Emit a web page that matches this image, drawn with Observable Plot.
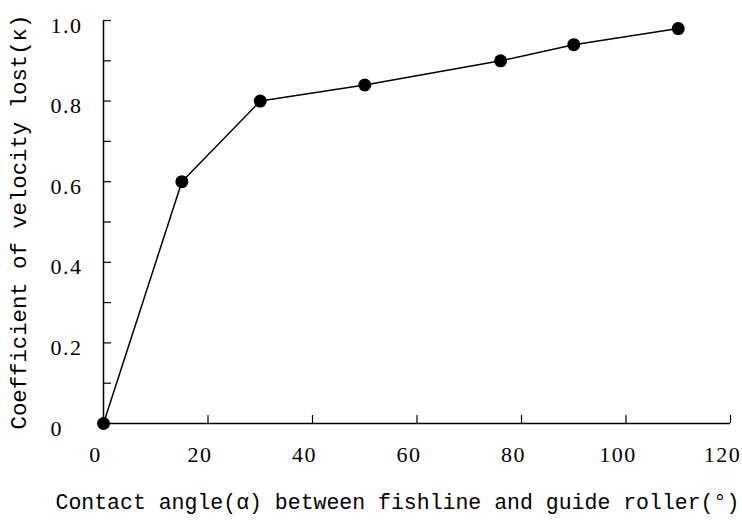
<!DOCTYPE html>
<html><head><meta charset="utf-8">
<script src="https://cdn.jsdelivr.net/npm/d3@7"></script>
<script src="https://cdn.jsdelivr.net/npm/@observablehq/plot@0.6"></script>
<style>
body{margin:0;background:#fff}
#chart{width:742px;height:520px;overflow:hidden}
g[font-family="Liberation Serif"] text{letter-spacing:1.5px}
</style>
</head><body><div id="chart"></div>
<script>
const angle = [0, 15, 30, 50, 76, 90, 110];
const kappa = [0, 0.60, 0.80, 0.84, 0.90, 0.94, 0.98];
const xTicks = [0, 20, 40, 60, 80, 100, 120];
const yTicks = [0, 0.2, 0.4, 0.6, 0.8, 1.0];
const yTickLabels = ["0", "0.2", "0.4", "0.6", "0.8", "1.0"];
const yAllTicks = [0.1, 0.2, 0.3, 0.4, 0.5, 0.6, 0.7, 0.8, 0.9, 1.0];
const xTitle = "Contact angle(\u03B1) between fishline and guide roller(\u00B0)";
const yTitle = "Coefficient of velocity lost(\u03BA)";

const data = angle.map((a, i) => ({angle: a, kappa: kappa[i]}));
const titleFont = "'Liberation Mono', monospace";

const chart = Plot.plot({
  width: 742,
  height: 520,
  marginLeft: 103,
  marginRight: 12,
  marginTop: 20,
  marginBottom: 97,
  style: {fontFamily: titleFont, fontSize: "21.5px", color: "#000", background: "#fff"},
  x: {domain: [xTicks[0], xTicks[xTicks.length - 1]]},
  y: {domain: [yTicks[0], yTicks[yTicks.length - 1]]},
  marks: [
    Plot.ruleX([xTicks[0]], {y1: yTicks[0], y2: yTicks[yTicks.length - 1], stroke: "#000", strokeWidth: 1.5}),
    Plot.ruleY([yTicks[0]], {x1: xTicks[0], x2: xTicks[xTicks.length - 1], stroke: "#000", strokeWidth: 1.5}),
    Plot.axisY(yAllTicks, {anchor: "left", tickSize: -8, tickFormat: () => "", label: null, strokeWidth: 1.2}),
    Plot.axisX(xTicks.slice(1), {anchor: "bottom", tickSize: -8, tickFormat: () => "", label: null, strokeWidth: 1.2}),
    Plot.text(yTicks, {y: d => d, text: (d, i) => yTickLabels[i], frameAnchor: "left", textAnchor: "start", dx: -53, dy: 5, fontFamily: "Liberation Serif", fontSize: 22, fill: "#000"}),
    Plot.text(xTicks, {x: d => d, text: d => String(d), frameAnchor: "bottom", dx: -8, dy: 38, fontFamily: "Liberation Serif", fontSize: 22, fill: "#000"}),
    Plot.text([xTitle], {frameAnchor: "bottom-left", textAnchor: "start", dx: -48, dy: 85, fill: "#000"}),
    Plot.text([yTitle], {frameAnchor: "bottom-left", textAnchor: "start", rotate: -90, dx: -78, dy: 6, fontSize: 22.3, fill: "#000"}),
    Plot.line(data, {x: "angle", y: "kappa", stroke: "#000", strokeWidth: 1.5}),
    Plot.dot(data, {x: "angle", y: "kappa", r: 6.5, fill: "#000", stroke: "none"})
  ]
});
document.getElementById("chart").appendChild(chart);
</script>
</body></html>
